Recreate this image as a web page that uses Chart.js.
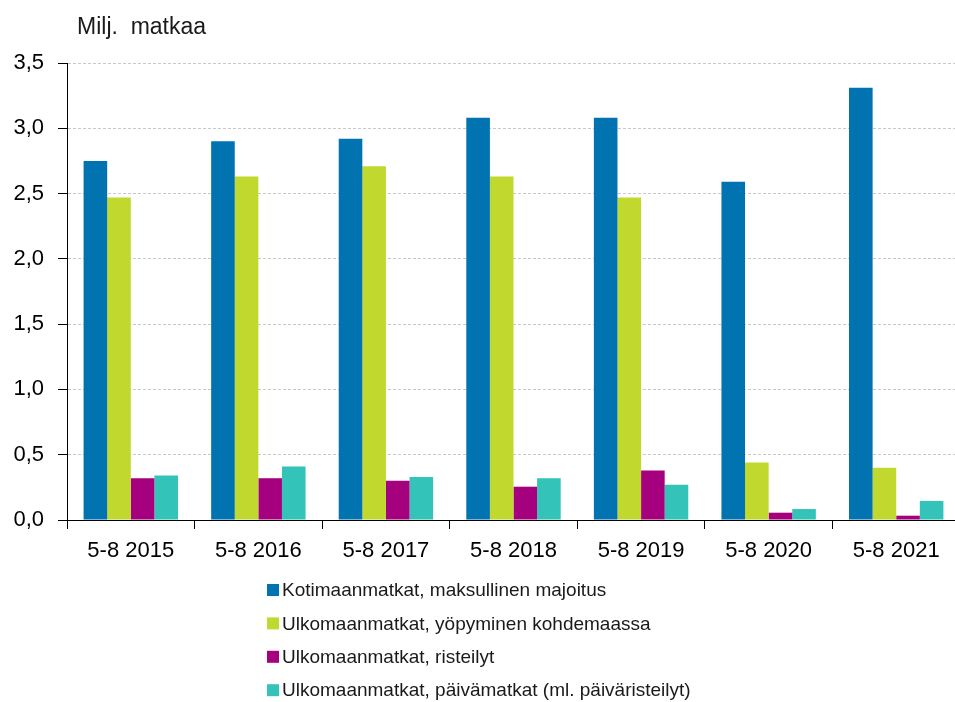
<!DOCTYPE html>
<html><head><meta charset="utf-8">
<script src="https://cdn.jsdelivr.net/npm/chart.js@4/dist/chart.umd.min.js"></script>
<style>
html,body{margin:0;padding:0;overflow:hidden;background:#fff;width:955px;height:702px}
#wrap{position:absolute;left:0;top:0;width:965px;height:702px}
</style>
</head><body><div id="wrap"><canvas id="c" width="965" height="702"></canvas></div>
<script>
const categories = ['5-8 2015','5-8 2016','5-8 2017','5-8 2018','5-8 2019','5-8 2020','5-8 2021'];
const kotimaan = [2.75, 2.90, 2.92, 3.08, 3.08, 2.59, 3.31];
const yopyminen = [2.47, 2.63, 2.71, 2.63, 2.47, 0.44, 0.40];
const risteilyt = [0.32, 0.32, 0.30, 0.255, 0.38, 0.056, 0.033];
const paivamatkat = [0.34, 0.41, 0.33, 0.32, 0.27, 0.084, 0.146];
const seriesNames = [
  'Kotimaanmatkat, maksullinen majoitus',
  'Ulkomaanmatkat, yöpyminen kohdemaassa',
  'Ulkomaanmatkat, risteilyt',
  'Ulkomaanmatkat, päivämatkat (ml. päiväristeilyt)'
];
const yTicks = [0, 0.5, 1.0, 1.5, 2.0, 2.5, 3.0, 3.5];
const unitLabel = 'Milj.  matkaa';
const colors = ['#0073b0', '#c1d82f', '#a5007e', '#34c3b9'];

const FONT = 'Arial, "Liberation Sans", sans-serif';

const extras = {
  id: 'extras',
  afterDraw(chart) {
    const ctx = chart.ctx;
    ctx.save();
    ctx.fillStyle = '#1a1a1a';
    ctx.font = '23px ' + FONT;
    ctx.textBaseline = 'alphabetic';
    ctx.textAlign = 'left';
    ctx.fillText(unitLabel, 77, 34);
    ctx.font = '19px ' + FONT;
    ctx.textBaseline = 'middle';
    chart.data.datasets.forEach((ds, i) => {
      const yc = 590 + i * 33.4;
      ctx.fillStyle = ds.backgroundColor;
      ctx.fillRect(267, yc - 6, 12, 12);
      ctx.fillStyle = '#1a1a1a';
      ctx.fillText(ds.label, 282, yc + 1);
    });
    ctx.restore();
  }
};

const series = [kotimaan, yopyminen, risteilyt, paivamatkat];
new Chart(document.getElementById('c'), {
  type: 'bar',
  data: {
    labels: categories,
    datasets: series.map((d, i) => ({
      label: seriesNames[i],
      data: d,
      backgroundColor: colors[i],
      borderWidth: 0,
      barPercentage: 1.0,
      categoryPercentage: 0.74
    }))
  },
  options: {
    responsive: false,
    animation: false,
    layout: { padding: { top: 63, bottom: 132, left: 0, right: 5 } },
    plugins: { legend: { display: false }, tooltip: { enabled: false } },
    scales: {
      x: {
        afterFit(s) { s.height = 50; },
        grid: { offset: true, drawOnChartArea: false, drawTicks: true, tickLength: 9, tickColor: '#000' },
        border: { display: true, color: '#000', width: 1 },
        ticks: { color: '#000', font: { family: FONT, size: 22 }, padding: 9, maxRotation: 0, autoSkip: false }
      },
      y: {
        min: 0, max: 3.5,
        afterFit(s) { s.width = 67; },
        afterBuildTicks(s) { s.ticks = yTicks.map(v => ({ value: v })); },
        grid: { color: '#c8c8c8', lineWidth: 1, drawTicks: true, tickLength: 9, tickColor: '#000' },
        border: { display: true, color: '#000', width: 1, dash: [3, 2] },
        ticks: {
          color: '#000', font: { family: FONT, size: 22 }, padding: 14,
          callback: v => Number(v).toFixed(1).replace('.', ',')
        }
      }
    }
  },
  plugins: [extras]
});
</script>
</body></html>
